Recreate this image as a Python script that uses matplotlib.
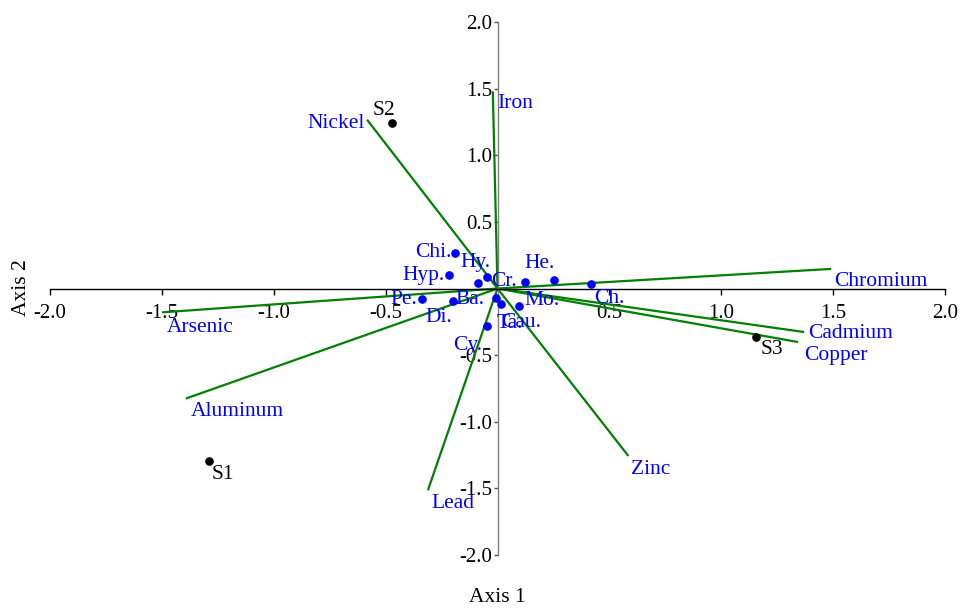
import matplotlib
matplotlib.use("Agg")
import matplotlib.pyplot as plt

plt.rcParams['font.family'] = ['Liberation Serif', 'DejaVu Serif']
plt.rcParams['axes.unicode_minus'] = False

# ---- data ----
variables = ['Iron', 'Nickel', 'Chromium', 'Cadmium', 'Copper', 'Zinc', 'Lead', 'Aluminum', 'Arsenic']
var_x = [-0.021, -0.583, 1.491, 1.371, 1.344, 0.585, -0.311, -1.393, -1.499]
var_y = [1.480, 1.267, 0.147, -0.327, -0.402, -1.257, -1.514, -0.826, -0.179]

sites = ['S1', 'S2', 'S3']
site_x = [-1.289, -0.472, 1.155]
site_y = [-1.295, 1.242, -0.362]

species = ['Chi.', 'Hyp.', 'Hy.', 'Cau.', 'Cr.', 'He.', 'Ch.', 'Pe.', 'Di.', 'Ba.', 'Ta.', 'Mo.', 'Cy.']
sp_x = [-0.188, -0.217, -0.088, -0.046, 0.121, 0.254, 0.420, -0.338, -0.201, -0.007, 0.014, 0.098, -0.048]
sp_y = [0.269, 0.101, 0.044, 0.089, 0.051, 0.064, 0.032, -0.079, -0.094, -0.068, -0.117, -0.132, -0.282]

ticks = [-2.0, -1.5, -1.0, -0.5, 0.5, 1.0, 1.5, 2.0]
tick_labels = ['-2.0', '-1.5', '-1.0', '-0.5', '0.5', '1.0', '1.5', '2.0']

# ---- label placement (pixel offsets, alignment) ----
var_off = [(4, -12, 'left'), (-2, -4, 'right'), (3, -13, 'left'), (4, -1, 'left'),
           (6, -13, 'left'), (3, -14, 'left'), (4, -13, 'left'), (5, -13, 'left'),
           (5, -15, 'left')]
site_off = [(3, -13, 'left'), (3, 13, 'right'), (5, -13, 'left')]
sp_off = [(-4, 0, 'right'), (-4, 0, 'right'), (-2, 20, 'center'), (14, -46, 'left'),
          (-8, 0, 'right'), (0, 16, 'right'), (3, -14, 'left'), (-5, 0, 'right'),
          (0, -16, 'right'), (-11, -2, 'right'), (-4, -19, 'left'), (5, 6, 'left'),
          (-5, -19, 'right')]

FS = 15.5
GREEN = '#008000'
BLUE = '#0000FF'

fig = plt.figure(figsize=(9.66, 6.13), dpi=100)
ax = fig.add_axes([50 / 966, 58 / 613, 895 / 966, 533 / 613])
ax.set_xlim(-2, 2)
ax.set_ylim(-2, 2)

for s in ['top', 'right']:
    ax.spines[s].set_visible(False)
ax.spines['left'].set_position(('data', 0))
ax.spines['bottom'].set_position(('data', 0))
ax.spines['left'].set_color('#808080')
ax.spines['bottom'].set_color('black')
ax.spines['left'].set_linewidth(1.0)
ax.spines['bottom'].set_linewidth(1.0)

ax.set_xticks(ticks)
ax.set_xticklabels(tick_labels)
ax.set_yticks(ticks)
ax.set_yticklabels(tick_labels)
ax.tick_params(axis='x', direction='out', length=4, pad=7, labelsize=FS - 0.5, width=1)
ax.tick_params(axis='y', direction='out', length=3, pad=1, labelsize=FS - 0.5, width=1,
               color='#555555')

# vectors
for name, x, y, (dx, dy, ha) in zip(variables, var_x, var_y, var_off):
    ax.plot([0, x], [0, y], color=GREEN, lw=1.6, zorder=2, solid_capstyle='butt')
    ax.annotate(name, (x, y), xytext=(dx, dy), textcoords='offset pixels',
                ha=ha, va='center', color=BLUE, fontsize=FS, zorder=5,
                annotation_clip=False)

# species
ax.plot(sp_x, sp_y, 'o', color=BLUE, ms=5.2, zorder=3)
for name, x, y, (dx, dy, ha) in zip(species, sp_x, sp_y, sp_off):
    ax.annotate(name, (x, y), xytext=(dx, dy), textcoords='offset pixels',
                ha=ha, va='center', color=BLUE, fontsize=FS, zorder=5)

# sites
ax.plot(site_x, site_y, 'o', color='black', ms=5.2, zorder=3)
for name, x, y, (dx, dy, ha) in zip(sites, site_x, site_y, site_off):
    ax.annotate(name, (x, y), xytext=(dx, dy), textcoords='offset pixels',
                ha=ha, va='center', color='black', fontsize=FS, zorder=5)

fig.text(497 / 966, 1 - 598 / 613, 'Axis 1', ha='center', va='center', fontsize=FS)
fig.text(22 / 966, 1 - 288 / 613, 'Axis 2', ha='center', va='center', fontsize=FS, rotation=90)

fig.savefig('out.png', dpi=100)
